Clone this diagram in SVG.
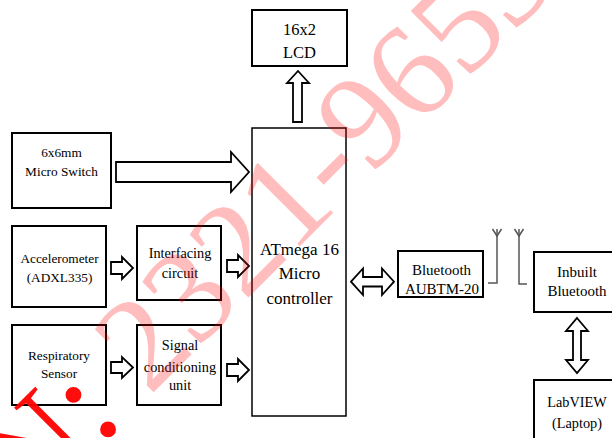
<svg xmlns="http://www.w3.org/2000/svg" width="612" height="438" viewBox="0 0 612 438">
<style>
  .box { fill: #fff; stroke: #000; stroke-width: 2; }
  .thin { stroke-width: 1.5; }
  .arr { fill: #fff; stroke: #000; stroke-width: 1.8; stroke-linejoin: miter; }
  .ant { fill: none; stroke: #555; stroke-width: 1.5; }
  text { font-family: "Liberation Serif", "Times New Roman", serif; fill: #000; text-anchor: middle; }
  .s13 { font-size: 13.3px; }
  .s14 { font-size: 14.3px; }
  .s15 { font-size: 15px; }
  .s16 { font-size: 16.5px; }
  .s17 { font-size: 17px; }
  .wm { font-family: "Liberation Serif", serif; font-size: 134px; text-anchor: start; fill: url(#wmg); }
</style>
<defs>
  <linearGradient id="wmg" gradientUnits="userSpaceOnUse" x1="0" y1="0" x2="1000" y2="0">
    <stop offset="0" stop-color="#ff0000" stop-opacity="0.95"/>
    <stop offset="0.345" stop-color="#ff0000" stop-opacity="0.95"/>
    <stop offset="0.36" stop-color="#ff0000" stop-opacity="0.26"/>
    <stop offset="1" stop-color="#ff0000" stop-opacity="0.26"/>
  </linearGradient>
</defs>
<rect width="612" height="438" fill="#fff"/>

<g id="connectors">
  <polygon class="arr" points="116,162 231,162 231,152 249,172 231,192 231,182 116,182"/>
  <polygon class="arr" points="293,122 293,83 287,83 298,71 309,83 302,83 302,122"/>
  <polygon class="arr" points="111,262 122,262 122,257 133,268 122,279 122,274 111,274"/>
  <polygon class="arr" points="227,260 238,260 238,255 249,266 238,277 238,272 227,272"/>
  <polygon class="arr" points="111,362 122,362 122,357 133,367.5 122,378 122,373 111,373"/>
  <polygon class="arr" points="227,364 238,364 238,359 249,370 238,381 238,376 227,376"/>
  <polygon class="arr" points="351,281.7 363,268.5 363,277 382,277 382,268.5 394,281.7 382,295 382,286.5 363,286.5 363,295"/>
  <polygon class="arr" points="577,318 588,331 581,331 581,360 588,360 577,373 566,360 573,360 573,331 566,331"/>
  <g id="antenna1">
    <polyline class="ant" points="488,283 497,283 497,229"/>
    <polyline class="ant" points="492.5,229 497,236 501.5,229"/>
  </g>
  <g id="antenna2">
    <polyline class="ant" points="527,284 519,284 519,229"/>
    <polyline class="ant" points="514.5,229 519,236 523.5,229"/>
  </g>
</g>

<g id="lcd">
  <rect class="box" x="252" y="10" width="95" height="56"/>
  <text class="s16" x="299.5" y="34.5">16x2</text>
  <text class="s16" x="299.5" y="57.5">LCD</text>
</g>
<g id="micro">
  <rect class="box thin" x="252" y="128" width="94" height="288"/>
  <text class="s17" x="299.5" y="255">ATmega 16</text>
  <text class="s17" x="299.5" y="279">Micro</text>
  <text class="s17" x="299.5" y="304">controller</text>
</g>
<g id="switch">
  <rect class="box" x="12" y="133" width="99" height="75"/>
  <text class="s13" x="61.5" y="157">6x6mm</text>
  <text class="s13" x="61.5" y="176">Micro Switch</text>
</g>
<g id="accel">
  <rect class="box" x="12" y="226" width="94" height="81"/>
  <text class="s13" x="59.5" y="263">Accelerometer</text>
  <text class="s13" x="59.5" y="282">(ADXL335)</text>
</g>
<g id="interfacing">
  <rect class="box" x="137" y="226" width="84" height="74"/>
  <text class="s14" x="180" y="258">Interfacing</text>
  <text class="s14" x="180" y="278">circuit</text>
</g>
<g id="respiratory">
  <rect class="box" x="12" y="325" width="94" height="80"/>
  <text class="s13" x="59" y="360">Respiratory</text>
  <text class="s13" x="59" y="378">Sensor</text>
</g>
<g id="signal">
  <rect class="box" x="137" y="325" width="84" height="80"/>
  <text class="s14" x="180" y="350">Signal</text>
  <text class="s14" x="180" y="371.5">conditioning</text>
  <text class="s14" x="180" y="390">unit</text>
</g>
<g id="bluetooth">
  <rect class="box" x="398" y="251" width="85" height="46"/>
  <text class="s15" x="441.5" y="275">Bluetooth</text>
  <text class="s15" x="442" y="294">AUBTM-20</text>
</g>
<g id="inbuilt">
  <rect class="box" x="534" y="252" width="90" height="60"/>
  <text class="s15" x="577" y="277">Inbuilt</text>
  <text class="s15" x="577" y="296">Bluetooth</text>
</g>
<g id="labview">
  <rect class="box" x="534" y="380" width="90" height="70"/>
  <text class="s14" x="577" y="407">LabVIEW</text>
  <text class="s14" x="577" y="428">(Laptop)</text>
</g>

<g id="watermark">
  <text class="wm" x="0" y="0" transform="translate(-106 652) rotate(-45)">ISSN: 2321-9653</text>
</g>
</svg>
